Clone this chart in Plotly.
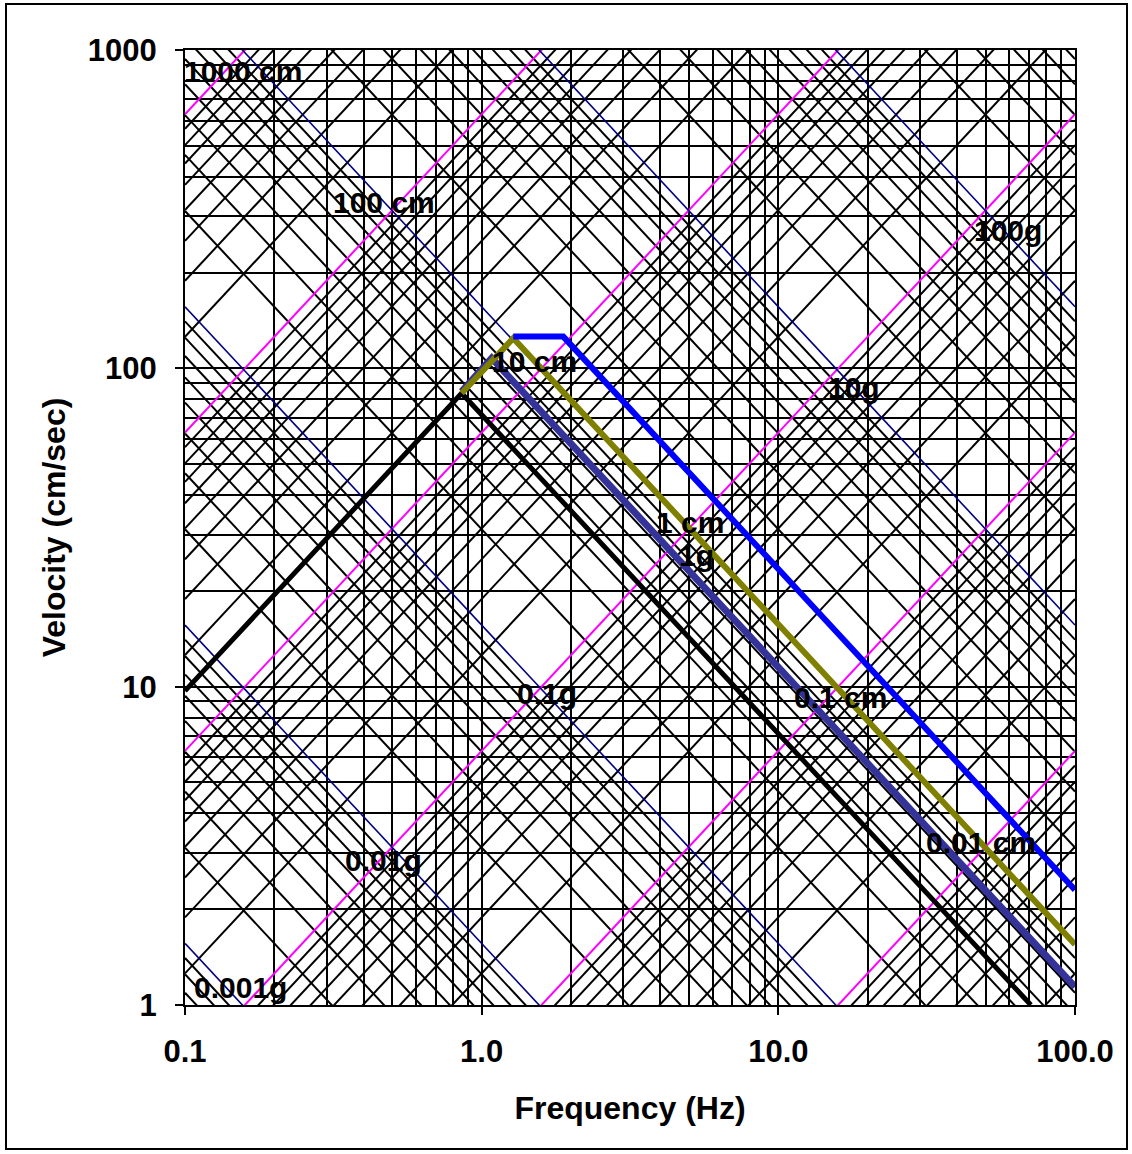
import numpy as np
import plotly.graph_objects as go

# ---- data ----
freq_black = [0.1, 0.856, 71.0]
vel_black = [9.7, 83.5, 1.0]

freq_slate = [0.856, 1.081, 100.0]
vel_slate = [84.5, 107.6, 1.14]

freq_olive = [0.856, 1.278, 100.0]
vel_olive = [83.5, 124.3, 1.55]

freq_blue = [1.278, 1.884, 100.0]
vel_blue = [125.8, 125.8, 2.3]

# tripartite reference lines: displacement (cm) and acceleration (g)
disp_decades = [0.001, 0.01, 0.1, 1, 10, 100, 1000]
accel_decades = [0.0001, 0.001, 0.01, 0.1, 1, 10, 100]
multipliers = [1, 2, 3, 4, 5, 6, 7, 8, 9]
G = 981.0

label_text = ["1000 cm", "100 cm", "10 cm", "1 cm", "0.1 cm", "0.01 cm",
              "100g", "10g", "1g", "0.1g", "0.01g", "0.001g"]
label_freq = [0.1568, 0.469, 1.512, 5.04, 16.26, 48.2,
              59.4, 17.99, 5.28, 1.661, 0.465, 0.1533]
label_vel = [853, 333, 104.7, 32.9, 9.28, 3.23,
             272, 86.8, 25.9, 9.55, 2.835, 1.139]

x_major = [0.1, 1, 10, 100]
x_major_text = ["0.1", "1.0", "10.0", "100.0"]
y_major = [1, 10, 100, 1000]
y_major_text = ["1", "10", "100", "1000"]

FONT = "Liberation Sans, Arial, sans-serif"

fig = go.Figure()
fe = np.array([0.1, 100.0])

# black intermediate diagonals first
for dec in disp_decades:
    for m in multipliers[1:]:
        D = dec * m
        fig.add_trace(go.Scatter(x=fe, y=2 * np.pi * fe * D, mode="lines",
                                 line=dict(color="black", width=2), hoverinfo="skip"))
for dec in accel_decades:
    for m in multipliers[1:]:
        A = dec * m * G
        fig.add_trace(go.Scatter(x=fe, y=A / (2 * np.pi * fe), mode="lines",
                                 line=dict(color="black", width=2), hoverinfo="skip"))
# decade diagonals
for D in disp_decades:
    fig.add_trace(go.Scatter(x=fe, y=2 * np.pi * fe * D, mode="lines",
                             line=dict(color="#FF00FF", width=2), hoverinfo="skip"))
for a in accel_decades:
    A = a * G
    fig.add_trace(go.Scatter(x=fe, y=A / (2 * np.pi * fe), mode="lines",
                             line=dict(color="#000080", width=1.6), hoverinfo="skip"))

# spectra
fig.add_trace(go.Scatter(x=freq_black, y=vel_black, mode="lines",
                         line=dict(color="black", width=5)))
fig.add_trace(go.Scatter(x=freq_slate, y=vel_slate, mode="lines",
                         line=dict(color="#333399", width=7)))
fig.add_trace(go.Scatter(x=freq_olive, y=vel_olive, mode="lines",
                         line=dict(color="#808000", width=6)))
fig.add_trace(go.Scatter(x=freq_blue, y=vel_blue, mode="lines",
                         line=dict(color="#0000FF", width=6)))

for t, f, v in zip(label_text, label_freq, label_vel):
    fig.add_annotation(x=np.log10(f), y=np.log10(v), text=t, showarrow=False,
                       xanchor="center", yanchor="middle",
                       font=dict(family=FONT, size=30, color="black", weight="bold"))

x_minor = [d * m for d in [0.1, 1, 10] for m in multipliers[1:]]
y_minor = [d * m for d in [1, 10, 100] for m in multipliers[1:]]

fig.update_xaxes(type="log", range=[-1, 2], tickvals=x_major, ticktext=x_major_text,
                 showgrid=True, gridcolor="black", gridwidth=2,
                 minor=dict(tickvals=x_minor, showgrid=True, gridcolor="black",
                            gridwidth=2, ticks=""),
                 ticks="outside", ticklen=8, tickwidth=2, tickcolor="black",
                 ticklabelstandoff=10,
                 showline=True, linecolor="black", linewidth=2, mirror=True,
                 zeroline=False,
                 tickfont=dict(family=FONT, size=31, color="black", weight="bold"),
                 title=dict(text="Frequency (Hz)", standoff=28,
                            font=dict(family=FONT, size=32, color="black", weight="bold")))
fig.update_yaxes(type="log", range=[0, 3], tickvals=y_major, ticktext=y_major_text,
                 showgrid=True, gridcolor="black", gridwidth=2,
                 minor=dict(tickvals=y_minor, showgrid=True, gridcolor="black",
                            gridwidth=2, ticks=""),
                 ticks="outside", ticklen=8, tickwidth=2, tickcolor="black",
                 ticklabelstandoff=12,
                 showline=True, linecolor="black", linewidth=2, mirror=True,
                 zeroline=False,
                 tickfont=dict(family=FONT, size=31, color="black", weight="bold"),
                 title=dict(text="Velocity (cm/sec)", standoff=13,
                            font=dict(family=FONT, size=32, color="black", weight="bold")))

L, R, T, B = 185, 57, 50, 149
W, H = 1132, 1154
pw, ph = W - L - R, H - T - B
fig.add_shape(type="rect", xref="paper", yref="paper",
              x0=(6 - L) / pw, x1=(1127 - L) / pw,
              y0=(H - B - 1149) / ph, y1=(H - B - 4) / ph,
              line=dict(color="black", width=2), layer="below")

fig.update_layout(width=W, height=H, margin=dict(l=L, r=R, t=T, b=B),
                  paper_bgcolor="white", plot_bgcolor="white",
                  showlegend=False, font=dict(family=FONT))

fig.write_html("out.html", config={"displayModeBar": False},
               post_script="document.body.style.margin='0';document.body.style.overflow='hidden';")
